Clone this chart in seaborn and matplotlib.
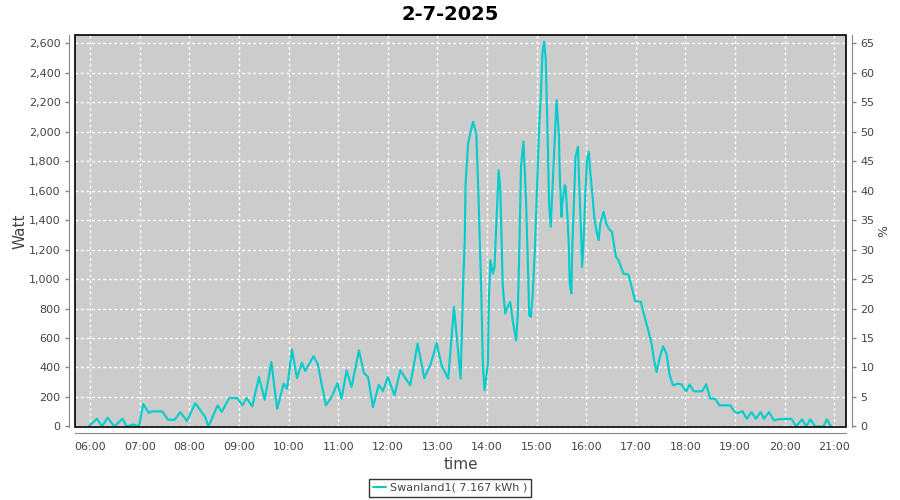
import matplotlib
matplotlib.use("Agg")
import matplotlib.pyplot as plt
import matplotlib.dates as mdates
from matplotlib.patches import Rectangle
from matplotlib.ticker import FuncFormatter
import seaborn as sns
import pandas as pd

title = "2-7-2025"
series_name = "Swanland1( 7.167 kWh )"

times = [
    "05:58", "06:08", "06:14", "06:21", "06:29", "06:39", "06:44", "06:52", "06:59",
    "07:04", "07:11", "07:14", "07:27", "07:34", "07:42", "07:49", "07:57",
    "08:07", "08:19", "08:23", "08:34", "08:39", "08:48", "08:58",
    "09:04", "09:09", "09:16", "09:24", "09:31", "09:39", "09:46", "09:54", "09:58",
    "10:04", "10:10", "10:16", "10:20", "10:30", "10:35", "10:45", "10:52", "10:59",
    "11:04", "11:10", "11:16", "11:25", "11:31", "11:36", "11:42", "11:49", "11:54",
    "12:00", "12:08", "12:15", "12:27", "12:36", "12:44", "12:52", "12:59",
    "13:05", "13:13", "13:20", "13:28", "13:31", "13:33", "13:34", "13:37", "13:43",
    "13:47", "13:50", "13:53", "13:55", "13:57",
    "14:01", "14:02", "14:04", "14:07", "14:09", "14:14", "14:16", "14:19", "14:22",
    "14:24", "14:28", "14:31", "14:35", "14:37", "14:39", "14:41", "14:44", "14:47",
    "14:49", "14:51", "14:53", "14:55", "14:58",
    "15:01", "15:03", "15:05", "15:07", "15:09", "15:11", "15:13", "15:15", "15:17",
    "15:19", "15:22", "15:24", "15:27", "15:28", "15:30", "15:31", "15:34", "15:35",
    "15:37", "15:39", "15:40", "15:42", "15:43", "15:45", "15:47", "15:50", "15:51",
    "15:54", "15:55", "15:57", "15:59",
    "16:01", "16:03", "16:05", "16:08", "16:10", "16:13", "16:15", "16:17", "16:21",
    "16:24", "16:27", "16:31", "16:34", "16:36", "16:39", "16:45", "16:51", "16:55",
    "16:59",
    "17:06", "17:09", "17:15", "17:19", "17:22", "17:25", "17:29", "17:33", "17:37",
    "17:41", "17:45", "17:51", "17:55",
    "18:01", "18:05", "18:10", "18:20", "18:25", "18:30", "18:36", "18:41", "18:54",
    "19:00", "19:04", "19:09", "19:14", "19:20", "19:25", "19:31", "19:35", "19:41",
    "19:47", "19:52",
    "20:08", "20:14", "20:21", "20:26", "20:31", "20:37", "20:47", "20:51", "20:56",
]

watts = [
    0, 52, 0, 59, 0, 52, 0, 12, 0,
    152, 90, 102, 102, 45, 45, 97, 36,
    158, 63, 0, 143, 98, 192, 192,
    143, 192, 136, 335, 181, 437, 120, 290, 256,
    521, 328, 433, 376, 476, 426, 143, 199, 294,
    188, 380, 267, 516, 362, 335, 131, 283, 240,
    335, 211, 380, 279, 562, 328, 426, 566,
    414, 324, 810, 324, 946, 1275, 1649, 1920, 2067,
    1988, 1490, 902, 403, 245,
    426, 834, 1128, 1037, 1082, 1739, 1603, 946, 766,
    800, 845, 720, 584, 743, 1196, 1762, 1932, 1558,
    1173, 754, 743, 879, 1218,
    1717, 2033, 2237, 2532, 2611, 2487, 2033, 1513, 1354,
    1603, 1966, 2215, 1966, 1694, 1422, 1513, 1637, 1626,
    1445, 1218, 969, 902, 1196, 1513, 1830, 1898, 1717,
    1264, 1082, 1286, 1603,
    1807, 1864, 1717, 1535, 1400, 1309, 1264, 1377, 1456,
    1377, 1343, 1320, 1218, 1150, 1128, 1037, 1031, 946,
    851,
    845, 777, 652, 562, 448, 369, 471, 543, 494,
    346, 279, 290, 285,
    238, 285, 238, 238, 285, 188, 188, 143, 143,
    97, 90, 104, 52, 97, 52, 97, 52, 97,
    41, 48,
    52, 0, 48, 0, 48, 0, 0, 48, 0,
]

hour_ticks = ["%02d:00" % h for h in range(6, 22)]
watt_ticks = list(range(0, 2601, 200))
pct_ticks = list(range(0, 66, 5))

day = "2025-07-02 "
df = pd.DataFrame({"time": pd.to_datetime([day + t for t in times]), "watt": watts})

sns.set_style("white")
plt.rcParams["font.family"] = ["DejaVu Sans"]

fig = plt.figure(figsize=(9, 5), dpi=100)
ax = fig.add_axes([75 / 900, 73 / 500, 771 / 900, 392 / 500])
ax.set_facecolor("#cccccc")

sns.lineplot(data=df, x="time", y="watt", ax=ax, color="#00cccc", linewidth=1.5,
             label=series_name, legend=False)

ax.set_xlim(pd.Timestamp(day + "05:41:30"), pd.Timestamp(day + "21:14:12"))
ax.set_ylim(-4, 2656)
ax.set_xticks(pd.to_datetime([day + t for t in hour_ticks]))
ax.xaxis.set_major_formatter(mdates.DateFormatter("%H:%M"))
ax.set_yticks(watt_ticks)
ax.yaxis.set_major_formatter(FuncFormatter(lambda v, p: f"{int(v):,}"))

ax.grid(True, color="white", linestyle=(0, (2, 2)), linewidth=1.0)
ax.set_axisbelow(True)

for s in ["top", "right"]:
    ax.spines[s].set_visible(False)
for s in ["left", "bottom"]:
    ax.spines[s].set_color("#888888")
    ax.spines[s].set_position(("outward", 4))
ax.add_patch(Rectangle((0, 0), 1, 1, transform=ax.transAxes, fill=False,
                       edgecolor="black", linewidth=1.2, clip_on=False, zorder=5))

ax.tick_params(axis="both", colors="#888888", labelcolor="#444444", labelsize=8,
               direction="out", length=3, width=1)

ax.set_xlabel("time", fontsize=11, color="#444444", labelpad=4)
ax.set_ylabel("Watt", fontsize=11, color="#444444", labelpad=1)

ax2 = ax.twinx()
ax2.set_ylim(ax.get_ylim()[0] / 40, ax.get_ylim()[1] / 40)
ax2.set_yticks(pct_ticks)
for s in ["top", "left", "bottom"]:
    ax2.spines[s].set_visible(False)
ax2.spines["right"].set_color("#888888")
ax2.spines["right"].set_position(("outward", 4))
ax2.tick_params(axis="y", colors="#888888", labelcolor="#444444", labelsize=8,
                direction="out", length=3, width=1)
ax2.set_ylabel("%", fontsize=9, color="#444444", labelpad=2)
ax2.grid(False)

fig.suptitle(title, fontsize=14, fontweight="bold", color="black", y=0.99)

handles, labels = ax.get_legend_handles_labels()
leg = fig.legend(handles, labels, loc="center", bbox_to_anchor=(0.5, 0.024),
                 frameon=True, fancybox=False, fontsize=8, handlelength=1.2,
                 handletextpad=0.3, borderpad=0.35, edgecolor="black")
leg.get_frame().set_linewidth(1.0)
for t in leg.get_texts():
    t.set_color("#444444")

fig.savefig("out.png", dpi=100)
